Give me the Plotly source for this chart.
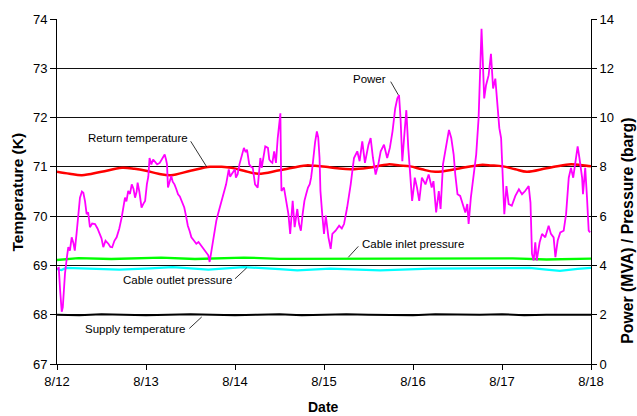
import pandas as pd
import plotly.graph_objects as go

# ---------------- data ----------------
start_date = "2005-08-12"
tick_labels = ["8/12", "8/13", "8/14", "8/15", "8/16", "8/17", "8/18"]
tick_days = [0, 1, 2, 3, 4, 5, 6]

power_day = [0.000, 0.020, 0.035, 0.053, 0.065, 0.080, 0.090, 0.110, 0.127, 0.145, 0.165, 0.185,
             0.200, 0.220, 0.240, 0.258, 0.280, 0.296, 0.315, 0.333, 0.350, 0.370, 0.395, 0.427,
             0.455, 0.483, 0.500, 0.520, 0.545, 0.577, 0.600, 0.620, 0.645, 0.670, 0.700, 0.727,
             0.745, 0.764, 0.780, 0.800, 0.820, 0.840, 0.860, 0.877, 0.895, 0.906, 0.925, 0.950,
             0.970, 0.990, 1.010, 1.026, 1.040, 1.060, 1.080, 1.100, 1.125, 1.154, 1.180, 1.210,
             1.225, 1.236, 1.247, 1.265, 1.284, 1.300, 1.320, 1.340, 1.360, 1.380, 1.397, 1.415,
             1.430, 1.450, 1.470, 1.490, 1.510, 1.540, 1.565, 1.590, 1.620, 1.640, 1.660, 1.680,
             1.700, 1.715, 1.730, 1.750, 1.770, 1.790, 1.810, 1.830, 1.850, 1.865, 1.885, 1.900,
             1.930, 1.945, 1.960, 1.980, 2.000, 2.010, 2.030, 2.050, 2.075, 2.100, 2.120, 2.135,
             2.160, 2.180, 2.200, 2.225, 2.255, 2.270, 2.285, 2.300, 2.320, 2.340, 2.370, 2.385,
             2.405, 2.420, 2.440, 2.460, 2.480, 2.495, 2.510, 2.517, 2.522, 2.550, 2.573, 2.600,
             2.620, 2.648, 2.670, 2.700, 2.720, 2.740, 2.760, 2.780, 2.800, 2.820, 2.840, 2.855,
             2.870, 2.884, 2.900, 2.920, 2.935, 2.950, 2.960, 2.980, 3.000, 3.020, 3.050, 3.075,
             3.094, 3.130, 3.170, 3.200, 3.225, 3.260, 3.300, 3.337, 3.374, 3.400, 3.430, 3.460,
             3.500, 3.524, 3.550, 3.580, 3.610, 3.637, 3.674, 3.710, 3.740, 3.770, 3.800, 3.824,
             3.843, 3.860, 3.880, 3.900, 3.925, 3.947, 3.974, 3.990, 4.010, 4.020, 4.045, 4.070,
             4.100, 4.140, 4.176, 4.210, 4.230, 4.260, 4.290, 4.310, 4.337, 4.363, 4.380, 4.404,
             4.430, 4.457, 4.475, 4.500, 4.530, 4.560, 4.588, 4.610, 4.625, 4.650, 4.680, 4.710,
             4.737, 4.756, 4.770, 4.785, 4.800, 4.820, 4.850, 4.876, 4.900, 4.925, 4.950, 4.970,
             4.990, 5.010, 5.026, 5.050, 5.075, 5.110, 5.150, 5.190, 5.225, 5.260, 5.300, 5.320,
             5.337, 5.356, 5.374, 5.390, 5.423, 5.450, 5.486, 5.524, 5.550, 5.580, 5.600, 5.626,
             5.655, 5.693, 5.720, 5.750, 5.775, 5.800, 5.823, 5.850, 5.870, 5.900, 5.910, 5.935,
             5.955, 5.974, 5.990]
power_mva = [3.87, 3.90, 3.00, 2.12, 2.30, 3.20, 3.68, 4.30, 4.74, 4.60, 5.14, 4.90,
             4.60, 5.30, 6.20, 6.75, 7.00, 6.95, 6.60, 6.08, 6.15, 5.55, 5.70, 5.68,
             5.50, 5.28, 5.10, 4.74, 5.00, 4.88, 4.75, 4.74, 5.00, 5.14, 5.50, 5.95,
             6.40, 6.75, 6.60, 7.02, 6.90, 7.29, 7.10, 6.75, 7.00, 7.36, 7.00, 6.35,
             6.50, 6.62, 7.30, 7.60, 8.36, 8.10, 8.30, 8.23, 8.10, 8.16, 8.30, 8.50,
             8.30, 8.10, 7.16, 7.40, 7.63, 7.40, 7.29, 7.10, 6.89, 6.80, 6.62, 6.50,
             6.35, 6.00, 5.61, 5.40, 5.14, 5.00, 4.88, 4.95, 4.81, 4.70, 4.61, 4.50,
             4.41, 4.14, 4.50, 5.01, 5.40, 5.81, 6.10, 6.35, 6.60, 6.89, 7.10, 7.29,
             7.90, 7.60, 7.69, 7.80, 7.90, 7.56, 7.70, 8.10, 8.50, 8.77, 8.60, 8.70,
             8.10, 8.00, 7.96, 7.29, 7.16, 7.80, 8.36, 7.96, 8.40, 8.83, 8.77, 8.30,
             8.20, 8.16, 8.63, 8.16, 9.17, 9.60, 10.17, 7.96, 7.02, 7.16, 6.69, 6.08,
             5.28, 6.62, 5.55, 6.29, 5.68, 5.41, 6.08, 6.62, 6.90, 7.16, 7.30, 7.56,
             8.00, 8.63, 9.00, 9.44, 9.20, 8.36, 7.02, 6.08, 5.28, 6.02, 5.14, 4.67,
             5.28, 5.41, 5.61, 5.50, 5.68, 6.35, 7.29, 8.36, 8.63, 8.23, 9.03, 8.16,
             8.90, 9.17, 8.36, 7.69, 8.10, 8.63, 8.90, 8.36, 8.77, 9.44, 10.37, 10.78,
             10.91, 9.97, 8.23, 9.17, 10.30, 8.77, 7.42, 6.62, 7.20, 7.56, 7.16, 6.62,
             7.56, 7.29, 7.69, 7.16, 7.42, 6.15, 7.02, 6.29, 8.10, 8.63, 9.03, 9.50,
             9.17, 8.50, 7.69, 6.89, 6.82, 6.49, 6.15, 6.49, 5.68, 6.75, 7.56, 8.50,
             9.97, 12.25, 13.60, 12.25, 10.78, 11.30, 11.72, 12.59, 11.18, 11.58, 10.51, 9.57,
             9.17, 7.16, 6.08, 7.22, 6.49, 6.42, 6.82, 7.09, 6.89, 7.02, 7.22, 6.55,
             4.47, 4.20, 4.94, 4.20, 4.94, 5.28, 5.14, 5.61, 5.28, 5.14, 4.34, 5.01,
             5.34, 5.41, 6.08, 7.56, 7.96, 7.56, 8.10, 8.83, 8.36, 7.56, 6.89, 7.96,
             6.75, 5.41, 5.34]

return_day = [0.00, 0.14, 0.28, 0.50, 0.73, 0.87, 1.00, 1.14, 1.28, 1.50, 1.72, 1.85, 1.96,
              2.10, 2.26, 2.50, 2.80, 2.90, 3.02, 3.15, 3.30, 3.50, 3.72, 3.85, 3.97, 4.10,
              4.25, 4.50, 4.76, 4.88, 5.01, 5.15, 5.28, 5.50, 5.75, 5.88, 6.00]
return_temp = [70.90, 70.86, 70.83, 70.90, 70.98, 70.96, 70.92, 70.86, 70.83, 70.92, 71.00, 71.00, 70.98,
               70.92, 70.86, 70.93, 71.03, 71.02, 71.00, 70.97, 70.95, 70.98, 71.05, 71.03, 71.01, 70.95,
               70.90, 70.96, 71.04, 71.03, 71.01, 70.95, 70.90, 70.97, 71.05, 71.04, 71.01]

inlet_day = [0.00, 0.10, 0.24, 0.61, 1.17, 1.55, 2.10, 2.50, 3.00, 3.50, 4.00, 4.50, 4.75, 5.12, 5.50, 5.80, 6.00]
inlet_barg = [4.22, 4.26, 4.30, 4.26, 4.32, 4.26, 4.32, 4.27, 4.27, 4.26, 4.27, 4.27, 4.29, 4.29, 4.24, 4.27, 4.28]

outlet_day = [0.00, 0.05, 0.10, 0.35, 0.70, 1.05, 1.30, 1.70, 2.10, 2.50, 2.70, 3.07, 3.30,
              3.63, 4.19, 4.75, 5.31, 5.50, 5.65, 5.85, 6.00]
outlet_barg = [3.85, 3.81, 3.90, 3.88, 3.83, 3.88, 3.93, 3.83, 3.93, 3.85, 3.80, 3.87, 3.85,
               3.80, 3.87, 3.90, 3.90, 3.83, 3.78, 3.86, 3.90]

supply_day = [0.00, 0.25, 0.50, 0.75, 1.00, 1.25, 1.50, 1.75, 2.00, 2.25, 2.50, 2.75, 3.00,
              3.25, 3.50, 3.75, 4.00, 4.25, 4.50, 4.75, 5.00, 5.25, 5.50, 5.75, 6.00]
supply_temp = [68.00, 67.99, 68.01, 68.00, 67.99, 68.00, 68.01, 68.00, 67.99, 68.00, 68.01, 67.99, 68.00,
               68.01, 68.00, 68.00, 67.99, 68.01, 68.00, 68.00, 68.01, 67.99, 68.00, 68.00, 68.00]

# ---------------- figure ----------------
t0 = pd.Timestamp(start_date)


def to_time(days):
    return [t0 + pd.Timedelta(days=d) for d in days]


FONT = "Liberation Sans, Arial, sans-serif"

fig = go.Figure()
fig.add_trace(go.Scatter(x=to_time(supply_day), y=supply_temp, mode="lines",
                         line=dict(color="#000000", width=2), yaxis="y"))
fig.add_trace(go.Scatter(x=to_time(outlet_day), y=outlet_barg, mode="lines",
                         line=dict(color="#00FFFF", width=2.3), yaxis="y2"))
fig.add_trace(go.Scatter(x=to_time(inlet_day), y=inlet_barg, mode="lines",
                         line=dict(color="#00FF00", width=2.3), yaxis="y2"))
fig.add_trace(go.Scatter(x=to_time(return_day), y=return_temp, mode="lines",
                         line=dict(color="#FF0000", width=2.5, shape="spline"), yaxis="y"))
fig.add_trace(go.Scatter(x=to_time(power_day), y=power_mva, mode="lines",
                         line=dict(color="#FF00FF", width=1.8), yaxis="y2"))

# plot area in pixels: x 57..591, y 17..364
L, R, T, B = 57, 591, 17, 364


def px(xp):
    return (xp - L) / (R - L)


def py(yp):
    return (B - yp) / (B - T)


labels = [
    ("Power", 369, 77, (390.7, 80), (398.3, 93.3)),
    ("Return temperature", 137.5, 137, (190.7, 140), (206.7, 165.7)),
    ("Cable inlet pressure", 412.5, 243, (358.3, 245.7), (348.3, 256.7)),
    ("Cable outlet pressure", 177.5, 280, (235, 278.3), (246.7, 267.3)),
    ("Supply temperature", 134.5, 329, (189.3, 328.3), (201.7, 316.7)),
]
annotations = []
shapes = []
for text, cx, cy, p1, p2 in labels:
    annotations.append(dict(text=text, x=px(cx), y=py(cy), xref="paper", yref="paper",
                            showarrow=False, xanchor="center", yanchor="middle",
                            font=dict(family=FONT, size=11.5, color="#000")))
    shapes.append(dict(type="line", xref="paper", yref="paper",
                       x0=px(p1[0]), y0=py(p1[1]), x1=px(p2[0]), y1=py(p2[1]),
                       line=dict(color="#000", width=0.8)))

annotations.append(dict(text="<b>Date</b>", x=px(323), y=py(407), xref="paper", yref="paper",
                        showarrow=False, xanchor="center", yanchor="middle",
                        font=dict(family=FONT, size=14, color="#000")))
annotations.append(dict(text="<b>Temperature (K)</b>", x=px(17.5), y=py(191), xref="paper", yref="paper",
                        showarrow=False, xanchor="center", yanchor="middle", textangle=-90,
                        font=dict(family=FONT, size=15.5, color="#000")))
annotations.append(dict(text="<b>Power (MVA) / Pressure (barg)</b>", x=px(628), y=py(230),
                        xref="paper", yref="paper", showarrow=False, xanchor="center",
                        yanchor="middle", textangle=-90,
                        font=dict(family=FONT, size=15.8, color="#000")))

fig.update_layout(
    width=637, height=416,
    margin=dict(l=L, r=637 - R, t=T, b=416 - B),
    paper_bgcolor="white", plot_bgcolor="white",
    showlegend=False,
    hovermode=False,
    font=dict(family=FONT, size=13, color="#000"),
    xaxis=dict(type="date", range=[t0, t0 + pd.Timedelta(days=6)],
               tickvals=to_time(tick_days), ticktext=tick_labels,
               showgrid=False, zeroline=False, showline=True, linecolor="#000", linewidth=1,
               ticks="outside", ticklen=5, tickcolor="#000",
               tickfont=dict(family=FONT, size=13, color="#000")),
    yaxis=dict(range=[67, 74], dtick=1, tick0=67, showgrid=True, gridcolor="#111111", gridwidth=1,
               zeroline=False, showline=True, linecolor="#000", linewidth=1,
               ticks="outside", ticklen=6, tickcolor="#000",
               tickfont=dict(family=FONT, size=13, color="#000")),
    yaxis2=dict(range=[0, 14], dtick=2, tick0=0, overlaying="y", side="right",
                showgrid=False, zeroline=False, showline=True, linecolor="#000", linewidth=1,
                ticks="outside", ticklen=5, tickcolor="#000",
                tickfont=dict(family=FONT, size=13, color="#000")),
    annotations=annotations,
    shapes=shapes,
)

fig.write_html("out.html", config={"displayModeBar": False},
               post_script="document.body.style.margin='0';document.body.style.overflow='hidden';")
